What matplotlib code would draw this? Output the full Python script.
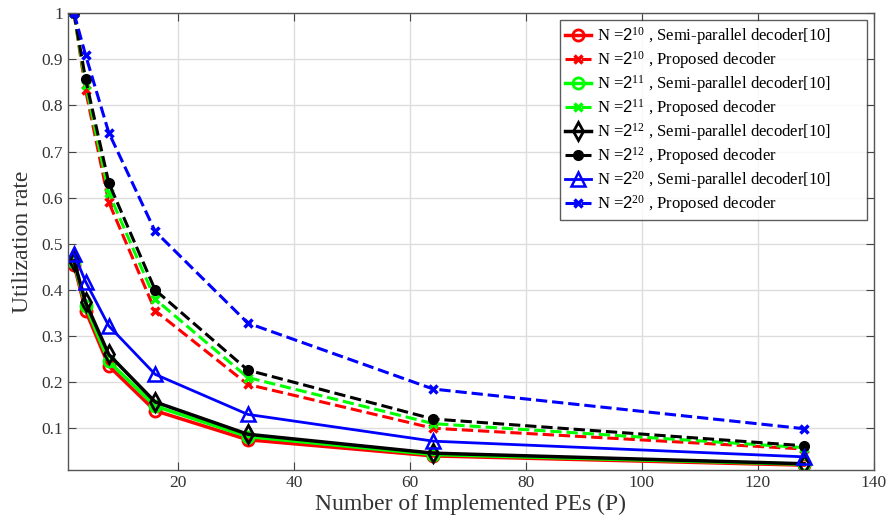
import numpy as np
import matplotlib.pyplot as plt

plt.rcParams['font.family'] = ['Liberation Serif', 'DejaVu Serif']
plt.rcParams['mathtext.fontset'] = 'custom'
plt.rcParams['mathtext.rm'] = 'Liberation Serif'
plt.rcParams['mathtext.it'] = 'Liberation Serif'
plt.rcParams['mathtext.sf'] = 'Liberation Sans'

# number of PEs
P = [2, 4, 8, 16, 32, 64, 128]

# semi-parallel decoder [10]
semi_10 = [0.455, 0.355, 0.235, 0.138, 0.075, 0.040, 0.020]
semi_11 = [0.460, 0.365, 0.245, 0.148, 0.082, 0.043, 0.022]
semi_12 = [0.463, 0.373, 0.260, 0.157, 0.087, 0.046, 0.023]
semi_20 = [0.478, 0.418, 0.322, 0.217, 0.130, 0.072, 0.038]

# proposed decoder
prop_10 = [1.0, 0.833, 0.590, 0.355, 0.195, 0.100, 0.055]
prop_11 = [1.0, 0.845, 0.610, 0.380, 0.210, 0.110, 0.058]
prop_12 = [1.0, 0.857, 0.632, 0.400, 0.226, 0.120, 0.062]
prop_20 = [1.0, 0.909, 0.741, 0.527, 0.328, 0.185, 0.099]

fig = plt.figure(figsize=(8.86, 5.29), dpi=100)
ax = fig.add_axes([0.077, 0.112, 0.909, 0.863])

green = '#00ff00'
ax.plot(P, semi_10, color='red', ls='-', lw=2.5, marker='o', ms=8, mfc='none', mew=2,
        label=r'N =$\mathsf{2}^{10}$ , Semi-parallel decoder[10]')
ax.plot(P, prop_10, color='red', ls='--', lw=2.2, marker='x', ms=6, mew=2.5,
        label=r'N =$\mathsf{2}^{10}$ , Proposed decoder')
ax.plot(P, semi_11, color=green, ls='-', lw=2.5, marker='o', ms=8, mfc='none', mew=2,
        label=r'N =$\mathsf{2}^{11}$ , Semi-parallel decoder[10]')
ax.plot(P, prop_11, color=green, ls='--', lw=2.2, marker='x', ms=6, mew=2.5,
        label=r'N =$\mathsf{2}^{11}$ , Proposed decoder')
ax.plot(P, semi_12, color='black', ls='-', lw=2.5, marker='d', ms=9, mfc='none', mew=2,
        label=r'N =$\mathsf{2}^{12}$ , Semi-parallel decoder[10]')
ax.plot(P, prop_12, color='black', ls='--', lw=2.2, marker='o', ms=7,
        label=r'N =$\mathsf{2}^{12}$ , Proposed decoder')
ax.plot(P, semi_20, color='blue', ls='-', lw=2, marker='^', ms=10, mfc='none', mew=1.8,
        label=r'N =$\mathsf{2}^{20}$ , Semi-parallel decoder[10]')
ax.plot(P, prop_20, color='blue', ls='--', lw=2.2, marker='x', ms=6, mew=2.5,
        label=r'N =$\mathsf{2}^{20}$ , Proposed decoder')

ax.set_xlim(1, 140)
ax.set_ylim(0.01, 1)
ax.set_xticks(np.arange(20, 141, 20))
ax.set_yticks(np.round(np.arange(0.1, 1.01, 0.1), 1))
ax.set_yticklabels(['0.1', '0.2', '0.3', '0.4', '0.5', '0.6', '0.7', '0.8', '0.9', '1'])
ax.grid(True, color='#dddddd', lw=1)
ax.tick_params(direction='in', top=True, right=True, labelsize=12.5, length=6,
               color='#444444', labelcolor='#333333')
for s in ax.spines.values():
    s.set_color('#555555')
    s.set_linewidth(1)

ax.set_xlabel('Number of Implemented PEs (P)', fontsize=17, color='#333333', labelpad=2)
ax.set_ylabel('Utilization rate', fontsize=17, color='#333333', labelpad=6)

leg = ax.legend(loc='upper left', bbox_to_anchor=(0.610, 0.0, 0.382, 0.985), mode='expand',
                fontsize=12, frameon=True, fancybox=False, edgecolor='#333333',
                handlelength=1.6, handletextpad=0.35, labelspacing=0.13,
                borderpad=0.3, borderaxespad=0)
leg.get_frame().set_linewidth(1)

fig.savefig('out.png', dpi=100)
